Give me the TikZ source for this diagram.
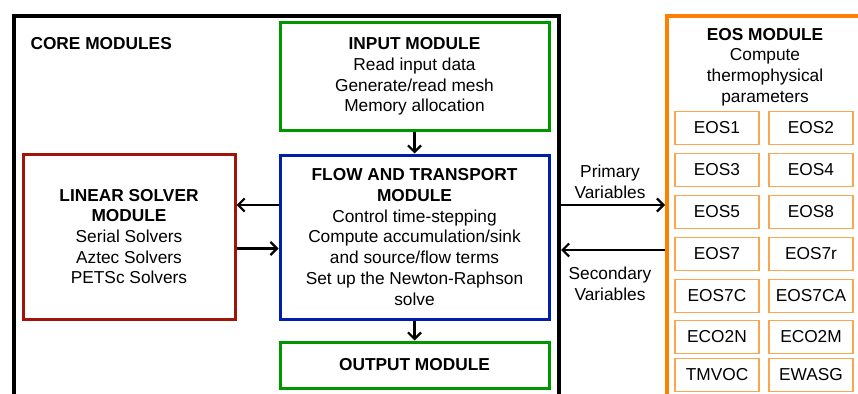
\documentclass[tikz,border=0pt]{standalone}
\usepackage{fontspec}
\setmainfont{Liberation Sans}
\usepackage{tikz}
\usetikzlibrary{arrows.meta,positioning,calc}

\definecolor{modgreen}{RGB}{0,150,0}
\definecolor{modblue}{RGB}{0,30,170}
\definecolor{modred}{RGB}{160,20,10}
\definecolor{eosorange}{RGB}{255,128,0}
\definecolor{eoslight}{RGB}{250,165,80}

\begin{document}
\begin{tikzpicture}[x=1pt, y=-1pt,
  txt/.style={font=\fontsize{17.3}{20.7}\selectfont, align=center},
  module/.style={draw, line width=3pt, txt, inner sep=0pt},
  eosbox/.style={draw=eoslight, line width=1.3pt, txt, inner sep=0pt,
                 minimum width=84pt, minimum height=33pt},
  arr/.style={-{Straight Barb[length=6.5pt,width=13pt]}, line width=2.2pt}]
  \useasboundingbox (0,0) rectangle (858,393);

  % Core modules frame
  \node[draw, line width=4pt, anchor=north west, minimum width=545pt,
        minimum height=420pt] (core) at (12,14) {};
  \node[txt, anchor=west, font=\fontsize{17.3}{20.7}\selectfont\bfseries]
    (coretitle) at (27,44) {CORE MODULES};

  % Input
  \node[module, draw=modgreen, minimum width=269pt, minimum height=107pt]
    (input) at (414.5,76.5)
    {\textbf{INPUT MODULE}\\Read input data\\Generate/read mesh\\Memory allocation};

  % Flow and transport
  \node[module, draw=modblue, minimum width=269pt, minimum height=164pt]
    (flow) at (414.5,237)
    {\textbf{FLOW AND TRANSPORT}\\\textbf{MODULE}\\Control time-stepping\\
     Compute accumulation/sink\\and source/flow terms\\
     Set up the Newton-Raphson\\solve};

  % Output
  \node[module, draw=modgreen, minimum width=269pt, minimum height=46pt]
    (output) at (414.5,365) {\textbf{OUTPUT MODULE}};

  % Linear solver
  \node[module, draw=modred, minimum width=212pt, minimum height=165pt]
    (linear) at (129,236.5)
    {\textbf{LINEAR SOLVER}\\\textbf{MODULE}\\Serial Solvers\\Aztec Solvers\\PETSc Solvers};

  % EOS frame
  \node[draw=eosorange, line width=4pt, anchor=north west, minimum width=240pt,
        minimum height=420pt] (eos) at (665,14) {};
  \node[txt] (eostitle) at (765,67)
    {\textbf{EOS MODULE}\\Compute\\thermophysical\\parameters};

  % EOS options
  \node[eosbox] (eos1) at (717,128) {EOS1};
  \node[eosbox] (eos2) at (811,128) {EOS2};
  \node[eosbox] (eos3) at (717,170) {EOS3};
  \node[eosbox] (eos4) at (811,170) {EOS4};
  \node[eosbox] (eos5) at (717,212) {EOS5};
  \node[eosbox] (eos8) at (811,212) {EOS8};
  \node[eosbox] (eos7) at (717,254) {EOS7};
  \node[eosbox] (eos7r) at (811,254) {EOS7r};
  \node[eosbox] (eos7c) at (717,296) {EOS7C};
  \node[eosbox] (eos7ca) at (811,296) {EOS7CA};
  \node[eosbox] (eco2n) at (717,337) {ECO2N};
  \node[eosbox] (eco2m) at (811,337) {ECO2M};
  \node[eosbox] (tmvoc) at (717,375) {TMVOC};
  \node[eosbox] (ewasg) at (811,375) {EWASG};

  % Arrows inside the core
  \draw[arr] (input) -- (flow);
  \draw[arr] (flow) -- (output);
  \draw[arr] ([yshift=32pt]flow.west) -- ([yshift=32pt]flow.west -| linear.east);
  \draw[arr] ([yshift=-12pt]linear.east) -- ([yshift=-12pt]linear.east -| flow.west);

  % Variables exchanged with EOS
  \draw[arr] ([yshift=32pt]flow.west -| core.east) -- ([yshift=32pt]flow.west -| eos.west);
  \draw[arr] ([yshift=-13pt]flow.west -| eos.west) -- ([yshift=-13pt]flow.west -| core.east);
  \node[txt] (primary) at (610,182) {Primary\\Variables};
  \node[txt] (secondary) at (610,284) {Secondary\\Variables};
\end{tikzpicture}
\end{document}
